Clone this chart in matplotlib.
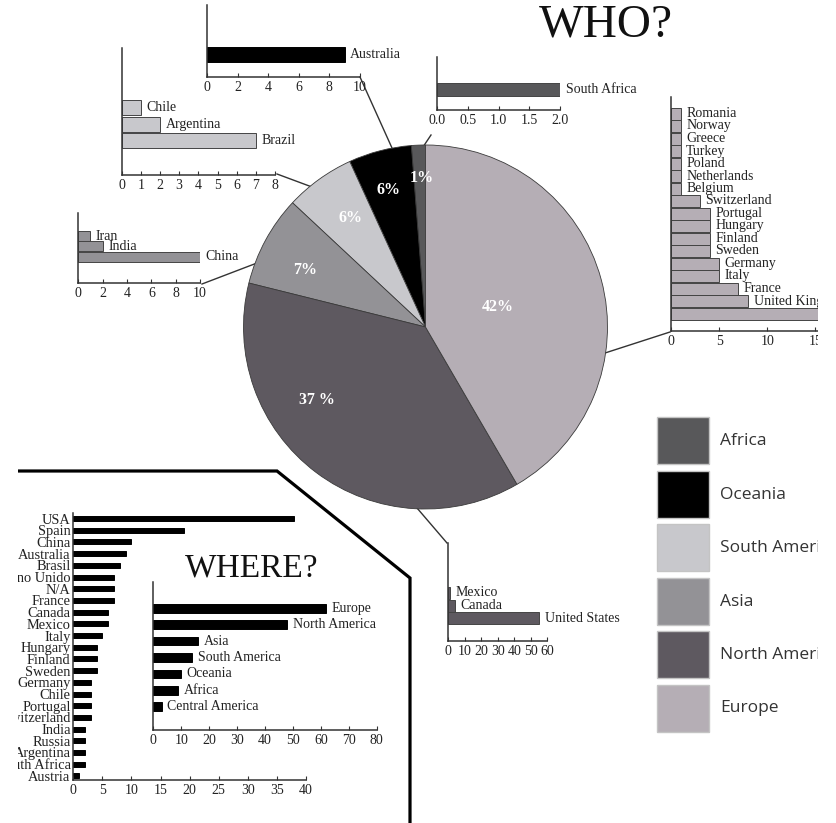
import numpy as np
import matplotlib
matplotlib.use("Agg")
import matplotlib.pyplot as plt
from matplotlib.patches import Rectangle

plt.rcParams["font.family"] = ["Liberation Serif", "DejaVu Serif"]

# regions (legend order, pie runs counter-clockwise from 12 o'clock in this order)
regions = ["Africa", "Oceania", "South America", "Asia", "North America", "Europe"]
region_colors = ["#58585a", "#000000", "#c8c8cc", "#939296", "#5e5960", "#b5aeb5"]
pie_labels = ["1%", "6%", "6%", "7%", "37 %", "42%"]

# WHO? - countries per region
africa_countries = ["South Africa"]
africa_counts = [2]
oceania_countries = ["Australia"]
oceania_counts = [9]
samerica_countries = ["Chile", "Argentina", "Brazil"]
samerica_counts = [1, 2, 7]
asia_countries = ["Iran", "India", "China"]
asia_counts = [1, 2, 10]
namerica_countries = ["Mexico", "Canada", "United States"]
namerica_counts = [1, 4, 55]
europe_countries = ["Romania", "Norway", "Greece", "Turkey", "Poland", "Netherlands",
                    "Belgium", "Switzerland", "Portugal", "Hungary", "Finland", "Sweden",
                    "Germany", "Italy", "France", "United Kingdom", "Spain"]
europe_counts = [1, 1, 1, 1, 1, 1, 1, 3, 4, 4, 4, 4, 5, 5, 7, 8, 16]

# WHERE? - countries and regions
where_countries = ["USA", "Spain", "China", "Australia", "Brasil", "Reino Unido", "N/A",
                   "France", "Canada", "Mexico", "Italy", "Hungary", "Finland", "Sweden",
                   "Germany", "Chile", "Portugal", "Switzerland", "India", "Russia",
                   "Argentina", "South Africa", "Austria"]
where_counts = [38, 19, 10, 9, 8, 7, 7, 7, 6, 6, 5, 4, 4, 4, 3, 3, 3, 3, 2, 2, 2, 2, 1]
where_regions = ["Europe", "North America", "Asia", "South America", "Oceania", "Africa",
                 "Central America"]
where_region_counts = [62, 48, 16, 14, 10, 9, 3]

W, H = 836, 823
fig = plt.figure(figsize=(W / 100, H / 100), dpi=100)


def px_ax(x0, y0, x1, y1, **kw):
    ax = fig.add_axes([x0 / W, 1 - y1 / H, (x1 - x0) / W, (y1 - y0) / H], **kw)
    ax.patch.set_alpha(0)
    return ax


def style_axes(ax):
    for s in ["top", "right"]:
        ax.spines[s].set_visible(False)
    for s in ["left", "bottom"]:
        ax.spines[s].set_linewidth(1.1)
        ax.spines[s].set_color("#333333")
    ax.tick_params(axis="x", direction="in", length=3, width=0.8, pad=3,
                   labelsize=10, colors="#333333", labelcolor="#222222")


def panel(rect, first_y, pitch, bar_px, names, vals, color, xmax, xticks,
          edge="#444444", fmt="{:g}", gap=4, label=True):
    x0, y0, x1, y1 = rect
    ax = px_ax(x0, y0, x1, y1)
    pos = np.arange(len(vals))
    ax.barh(pos, vals, height=bar_px / pitch, color=color, edgecolor=edge, linewidth=0.7)
    ax.set_xlim(0, xmax)
    ax.set_ylim((y1 - first_y) / pitch, -(first_y - y0) / pitch)
    ax.set_xticks(xticks)
    ax.set_xticklabels([fmt.format(t) for t in xticks])
    ax.set_yticks([])
    style_axes(ax)
    if label:
        for p, v, n in zip(pos, vals, names):
            ax.annotate(n, (v, p), xytext=(gap, 0), textcoords="offset points",
                        va="center", ha="left", fontsize=10, color="#222222",
                        annotation_clip=False)
    return ax


# overlay in pixel coordinates for decorations
ov = fig.add_axes([0, 0, 1, 1], zorder=-1)
ov.set_xlim(0, W)
ov.set_ylim(H, 0)
ov.axis("off")

ov.text(606, 25, "WHO?", fontsize=34, ha="center", va="center", color="#111111")
ov.text(252, 568, "WHERE?", fontsize=24, ha="center", va="center", color="#111111")
ov.plot([18, 277, 410, 410], [471, 471, 578, 830], color="black", lw=2.3,
        solid_joinstyle="miter")

# connectors from sub charts to the pie
connectors = [((360, 77), (392, 148)), ((431, 135), (423, 147)),
              ((277, 174), (312, 187)), ((202, 284), (257, 263)),
              ((417, 508), (447, 543)), ((605, 353), (670, 332))]
for (ax0, ay0), (ax1, ay1) in connectors:
    ov.plot([ax0, ax1], [ay0, ay1], color="#333333", lw=1)

# legend
for i, (name, col) in enumerate(zip(regions, region_colors)):
    top = 417 + i * 53.5
    ov.add_patch(Rectangle((657, top), 52, 47, facecolor=col, edgecolor="#c4c4c4", lw=1))
    ov.text(720, top + 24, name, fontsize=12.5, family="Open Sans", color="#333333",
            va="center", ha="left")

# pie
totals = [sum(africa_counts), sum(oceania_counts), sum(samerica_counts),
          sum(asia_counts), sum(namerica_counts), sum(europe_counts)]
ax_pie = px_ax(243.5, 145, 607.5, 509)
wedges, _ = ax_pie.pie(totals, colors=region_colors, startangle=90, counterclock=True,
                       wedgeprops=dict(edgecolor="#3a3a3a", linewidth=0.6))
ax_pie.set_xlim(-1, 1)
ax_pie.set_ylim(-1, 1)
for w in wedges:
    w.set_clip_on(False)
label_polar = [(91.5, 0.82), (105, 0.78), (124.5, 0.725), (154.7, 0.73),
               (-146, 0.72), (15.8, 0.41)]
for lab, (ang, r) in zip(pie_labels, label_polar):
    t = np.deg2rad(ang)
    ax_pie.text(r * np.cos(t), r * np.sin(t), lab, color="white", fontweight="bold",
                fontsize=11.5, ha="center", va="center")

# WHO? sub charts
panel((207, 5, 360, 77), 54.5, 15, 15, oceania_countries, oceania_counts,
      "#000000", 10, range(0, 11, 2), edge="#000000")
panel((437, 57, 560, 110), 89.5, 13, 13, africa_countries, africa_counts,
      "#58585a", 2.0, [0, 0.5, 1.0, 1.5, 2.0], fmt="{:.1f}")
panel((121.7, 48, 275, 175), 107.5, 16.7, 15, samerica_countries, samerica_counts,
      "#c8c8cc", 8, range(0, 9))
panel((78.3, 212.7, 200, 283), 236, 10.3, 10, asia_countries, asia_counts,
      "#939296", 10, range(0, 11, 2))
panel((448.3, 543, 547.3, 640.7), 593, 12.5, 12, namerica_countries, namerica_counts,
      "#5e5960", 60, range(0, 61, 10))
panel((671, 97, 844.3, 331), 113.5, 12.5, 12, europe_countries, europe_counts,
      "#b5aeb5", 18, [0, 5, 10, 15])

# WHERE? charts
ax_w = panel((73.3, 513, 306, 780), 518.5, 11.7, 5, where_countries, where_counts,
             "#000000", 40, range(0, 41, 5), edge="#000000", label=False)
ax_w.set_yticks(np.arange(len(where_countries)))
ax_w.set_yticklabels(where_countries)
ax_w.tick_params(axis="y", length=0, pad=2, labelsize=10.4, labelcolor="#222222")

panel((153.3, 581.7, 376.7, 730), 608.3, 16.4, 8.7, where_regions, where_region_counts,
      "#000000", 80, range(0, 81, 10), edge="#000000")

# the original sheet is cropped at both sides
mask = fig.add_axes([0, 0, 1, 1], zorder=50)
mask.set_xlim(0, W)
mask.set_ylim(H, 0)
mask.axis("off")
mask.add_patch(Rectangle((0, 0), 18, H, facecolor="white", edgecolor="none"))
mask.add_patch(Rectangle((818, 0), W - 818, H, facecolor="white", edgecolor="none"))

fig.savefig("out.png", dpi=100)
